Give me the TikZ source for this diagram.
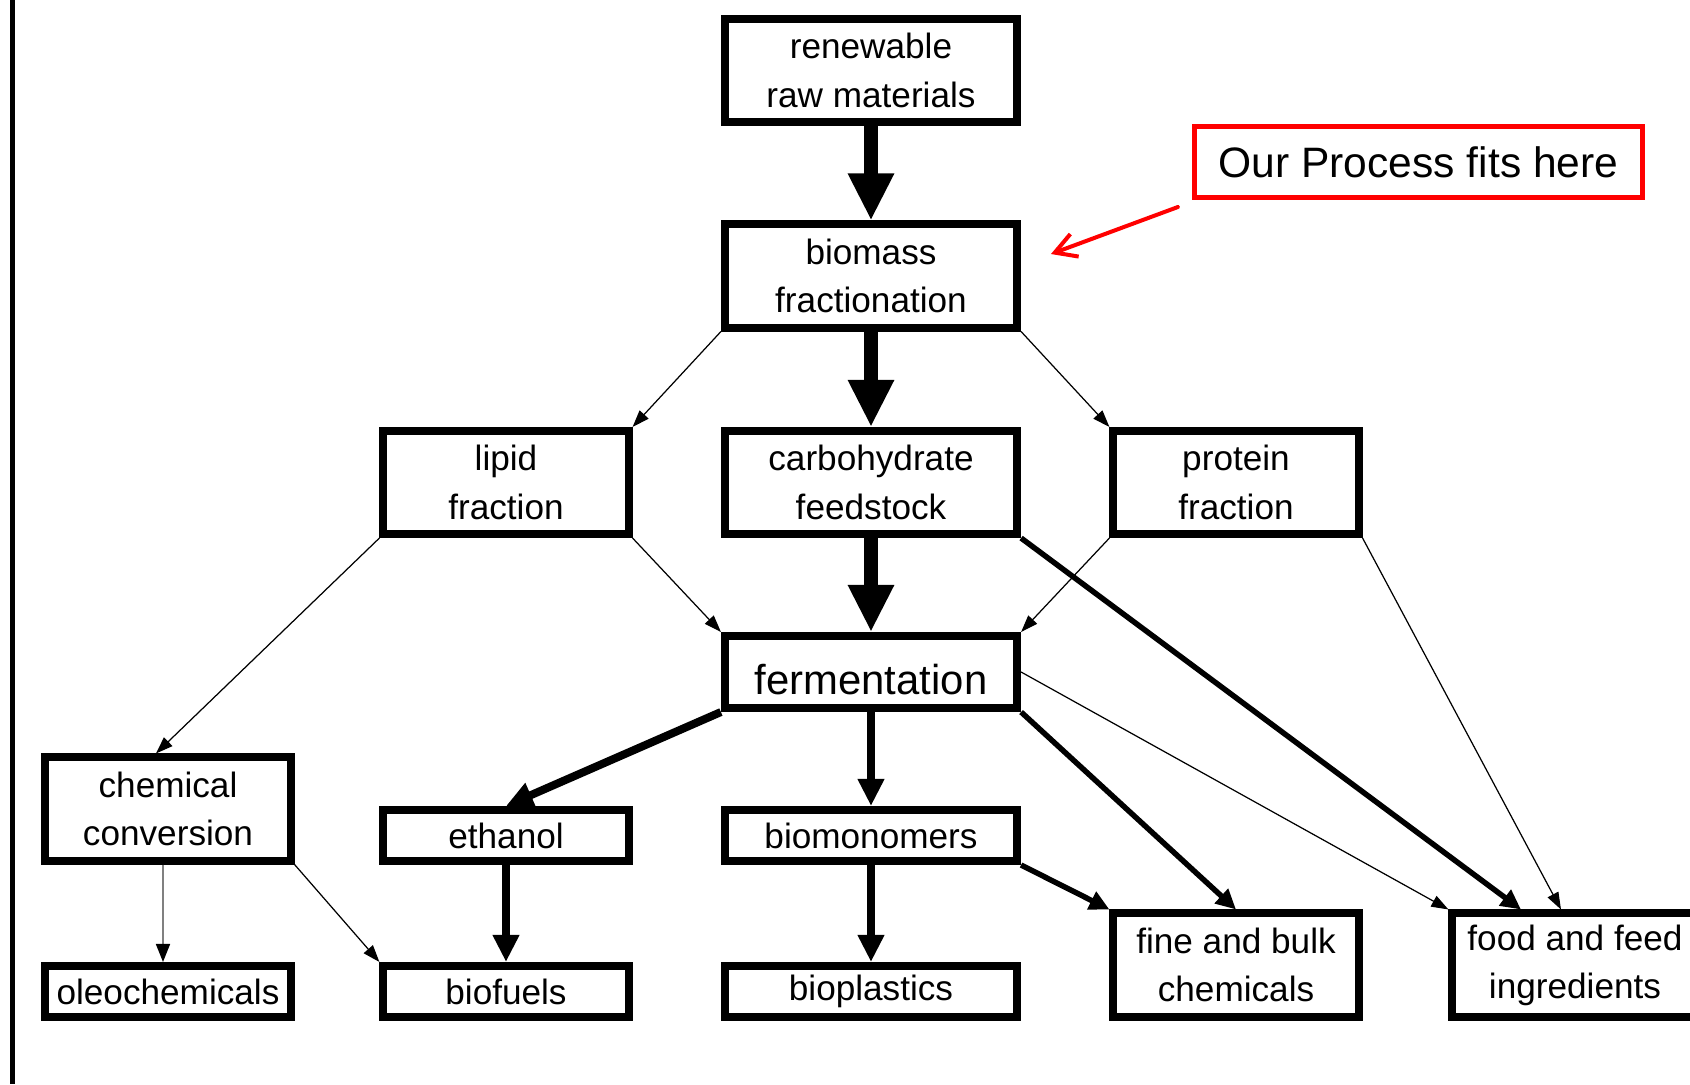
\documentclass[tikz,border=0pt]{standalone}
\usepackage{fontspec}
\setmainfont{Liberation Sans}
\usetikzlibrary{arrows.meta}

\begin{document}
\begin{tikzpicture}[x=0.01cm, y=-0.01cm,
    box/.style={draw, line width=2.28pt, inner sep=0pt, align=center,
      font=\fontsize{10}{13.7}\selectfont},
    wide/.style={box, minimum width=2.92cm},
    narrow/.style={box, minimum width=2.45cm},
    tall/.style={minimum height=1.03cm},
    flat/.style={minimum height=0.51cm},
    bigflow/.style={line width=3.98pt, -{Triangle[length=4.7mm, width=4.3mm]}},
    mainflow/.style={line width=2.28pt, -{Triangle[length=2.7mm, width=2.5mm]}},
    sideflow/.style={line width=1.56pt, -{Triangle[length=2.0mm, width=1.9mm]}},
    thinflow/.style={line width=0.35pt, -{Triangle[length=1.7mm, width=1.2mm]}},
    greyflow/.style={line width=0.45pt, draw=gray, -{Triangle[length=1.8mm, width=1.4mm, color=black]}},
    hint/.style={draw=red, line width=1.14pt, line cap=round, -{Straight Barb[length=2.1mm, width=2.4mm]}}
  ]
    \clip (0,0) rectangle (1690,1084);
    \draw[line width=1.3pt] (12.5,0) -- (12.5,1084);

    \node[wide, tall] (raw) at (871,70.5) {renewable\\raw materials};
    \node[wide, tall] (frac) at (871,276) {biomass\\fractionation};
    \node[narrow, tall] (lipid) at (506,482.5) {lipid\\fraction};
    \node[wide, tall] (carb) at (871,482.5) {carbohydrate\\feedstock};
    \node[narrow, tall] (prot) at (1236,482.5) {protein\\fraction};
    \node[wide, minimum height=0.72cm, text height=13pt, text depth=0pt,
      font=\fontsize{11.9}{14}\selectfont] (ferm) at (871,672) {fermentation};
    \node[narrow, tall] (chem) at (168,809) {chemical\\conversion};
    \node[narrow, flat] (eth) at (506,835.5) {ethanol};
    \node[wide, flat] (mono) at (871,835.5) {biomonomers};
    \node[narrow, tall] (fine) at (1236,965) {fine and bulk\\chemicals};
    \node[narrow, tall] (food) at (1575,965) {food and feed\\ingredients};
    \node[narrow, flat] (oleo) at (168,991.5) {oleochemicals};
    \node[narrow, flat] (fuel) at (506,991.5) {biofuels};
    \node[wide, flat] (plast) at (871,991.5) {bioplastics};

    \node[draw=red, line width=1.42pt, minimum width=4.48cm, minimum height=0.71cm,
      inner sep=0pt, font=\fontsize{12.1}{14}\selectfont] (note) at (1418.5,162) {Our Process fits here};
    \coordinate (hinttip) at (1051,254);

    \draw[bigflow] (raw.south) -- (frac.north);
    \draw[bigflow] (frac.south) -- (carb.north);
    \draw[bigflow] (carb.south) -- (ferm.north);
    \draw[thinflow] (frac.south west) -- (lipid.north east);
    \draw[thinflow] (frac.south east) -- (prot.north west);
    \draw[thinflow] (lipid.south east) -- (ferm.north west);
    \draw[thinflow] (prot.south west) -- (ferm.north east);
    \draw[thinflow] (lipid.south west) -- ([xshift=-1.2mm]chem.north);
    \draw[sideflow] (carb.south east) -- ([xshift=-5.4mm]food.north);
    \draw[thinflow] (prot.south east) -- ([xshift=-1.4mm]food.north);
    \draw[mainflow] (ferm.south west) -- (eth.north);
    \draw[mainflow] (ferm.south) -- (mono.north);
    \draw[sideflow] (ferm.south east) -- (fine.north);
    \draw[thinflow] (ferm.east) -- (food.north west);
    \draw[mainflow] (mono.south) -- (plast.north);
    \draw[sideflow] (mono.south east) -- (fine.north west);
    \draw[mainflow] (eth.south) -- (fuel.north);
    \draw[greyflow] ([xshift=-0.5mm]chem.south) -- ([xshift=-0.5mm]oleo.north);
    \draw[thinflow] (chem.south east) -- (fuel.north west);
    \draw[hint] ([shift={(-14,7)}]note.south west) -- (hinttip);
\end{tikzpicture}
\end{document}
